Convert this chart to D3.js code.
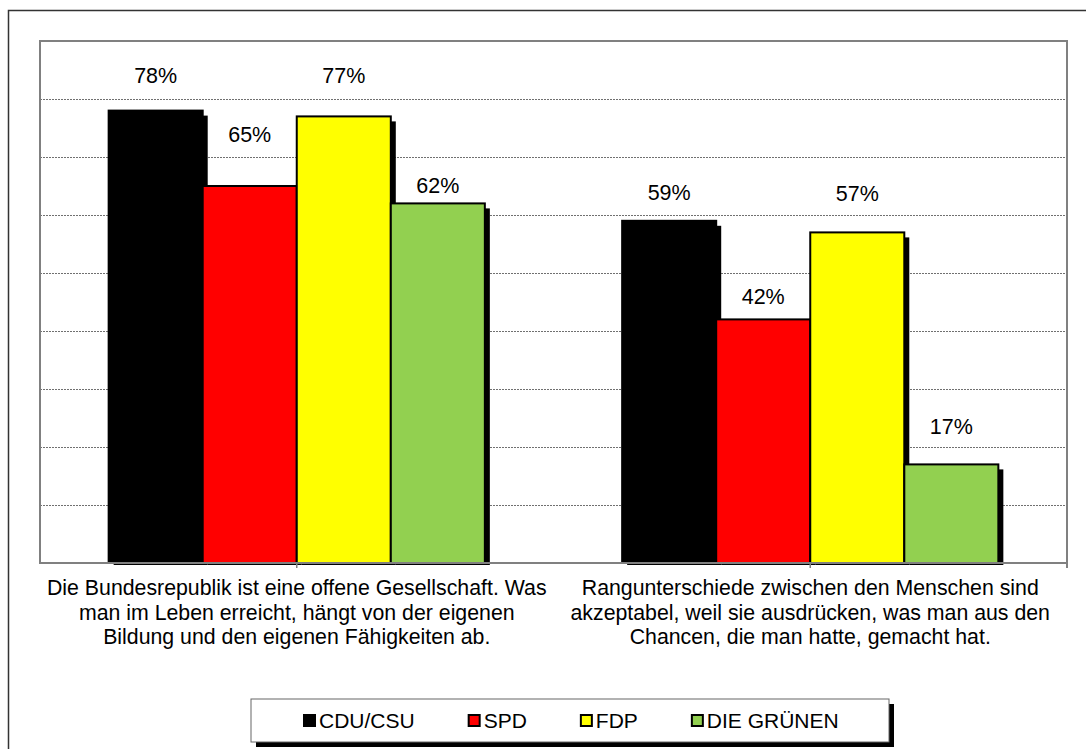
<!DOCTYPE html>
<html>
<head>
<meta charset="utf-8">
<script src="https://cdn.jsdelivr.net/npm/d3@7"></script>
<style>
  body { margin: 0; background: #fff; }
  svg { display: block; font-family: "Liberation Sans", Arial, sans-serif; }
</style>
</head>
<body>
<div id="chart"></div>
<script>
// data
var categories = ["Offene Gesellschaft", "Rangunterschiede"];
var categoryLines = [
  ["Die Bundesrepublik ist eine offene Gesellschaft. Was",
   "man im Leben erreicht, hängt von der eigenen",
   "Bildung und den eigenen Fähigkeiten ab."],
  ["Rangunterschiede zwischen den Menschen sind",
   "akzeptabel, weil sie ausdrücken, was man aus den",
   "Chancen, die man hatte, gemacht hat."]
];
var parties = ["CDU/CSU", "SPD", "FDP", "DIE GRÜNEN"];
var partyColors = ["#000000", "#ff0000", "#ffff00", "#92d050"];
var values = [
  [78, 65, 77, 62],
  [59, 42, 57, 17]
];
var yTicks = [10, 20, 30, 40, 50, 60, 70, 80];

// layout (label lift above bar top, px) - labels sit a bit irregularly in the original
var labelLift = [[35, 52, 41, 18], [28, 23, 39, 38]];

var W = 1086, H = 749;
var plot = { left: 40, top: 41, right: 1067, bottom: 563 };

var svg = d3.select("#chart").append("svg")
    .attr("width", W)
    .attr("height", H);

// outer chart frame (runs off the page on right/bottom)
svg.append("rect")
    .attr("x", 8.5).attr("y", 10.5)
    .attr("width", W + 20).attr("height", H + 20)
    .attr("fill", "#fff")
    .attr("stroke", "#333")
    .attr("stroke-width", 1.5);

var x0 = d3.scaleBand()
    .domain(categories)
    .range([plot.left, plot.right])
    .padding(0);

var x1 = d3.scaleBand()
    .domain(parties)
    .range([0, x0.bandwidth()])
    .paddingInner(0)
    .paddingOuter(0.73);

var y = d3.scaleLinear()
    .domain([0, 90])
    .range([plot.bottom, plot.top]);

// gridlines
svg.append("g")
  .selectAll("line")
  .data(yTicks)
  .enter().append("line")
    .attr("x1", plot.left).attr("x2", plot.right)
    .attr("y1", function(d) { return Math.round(y(d)) + 0.5; })
    .attr("y2", function(d) { return Math.round(y(d)) + 0.5; })
    .attr("stroke", "#707070")
    .attr("stroke-width", 1)
    .attr("stroke-dasharray", "2,1");

svg.append("defs").append("clipPath").attr("id", "plotclip")
  .append("rect")
    .attr("x", plot.left).attr("y", plot.top)
    .attr("width", plot.right - plot.left + 10)
    .attr("height", plot.bottom - plot.top + 2);

// bars, each with its drop shadow, drawn in series order
var groups = svg.append("g")
    .attr("clip-path", "url(#plotclip)")
  .selectAll(".grp")
  .data(categories)
  .enter().append("g")
    .attr("class", "grp")
    .attr("transform", function(d) { return "translate(" + x0(d) + ",0)"; });

groups.each(function(cat, ci) {
  var g = d3.select(this);
  parties.forEach(function(p, pi) {
    var v = values[ci][pi];
    g.append("rect")
        .attr("x", x1(p) + 5)
        .attr("y", y(v) + 5)
        .attr("width", x1.bandwidth())
        .attr("height", plot.bottom - y(v))
        .attr("fill", "#000");
    g.append("rect")
        .attr("x", x1(p))
        .attr("y", y(v))
        .attr("width", x1.bandwidth())
        .attr("height", plot.bottom - y(v))
        .attr("fill", partyColors[pi])
        .attr("stroke", "#000")
        .attr("stroke-width", 2);
  });
});

// plot area border
svg.append("rect")
    .attr("x", plot.left).attr("y", plot.top)
    .attr("width", plot.right - plot.left)
    .attr("height", plot.bottom - plot.top)
    .attr("fill", "none")
    .attr("stroke", "#808080")
    .attr("stroke-width", 2);

// category tick marks
svg.append("g")
  .selectAll("line")
  .data(categories)
  .enter().append("line")
    .attr("x1", function(d) { return x0(d) + x0.bandwidth() / 2; })
    .attr("x2", function(d) { return x0(d) + x0.bandwidth() / 2; })
    .attr("y1", plot.bottom).attr("y2", plot.bottom + 5)
    .attr("stroke", "#808080").attr("stroke-width", 1.5);
svg.append("line")
    .attr("x1", plot.right).attr("x2", plot.right)
    .attr("y1", plot.bottom).attr("y2", plot.bottom + 5)
    .attr("stroke", "#808080").attr("stroke-width", 2);

// value labels
categories.forEach(function(cat, ci) {
  parties.forEach(function(p, pi) {
    var v = values[ci][pi];
    svg.append("text")
        .attr("x", x0(cat) + x1(p) + x1.bandwidth() / 2)
        .attr("y", y(v) - labelLift[ci][pi])
        .attr("dy", "0.35em")
        .attr("text-anchor", "middle")
        .style("font-size", "21.5px")
        .attr("fill", "#000")
        .text(v + "%");
  });
});

// category labels
categories.forEach(function(cat, ci) {
  var t = svg.append("text")
      .attr("text-anchor", "middle")
      .style("font-size", "21.3px")
      .attr("fill", "#000");
  categoryLines[ci].forEach(function(line, li) {
    t.append("tspan")
        .attr("x", x0(cat) + x0.bandwidth() / 2)
        .attr("y", 588 + li * 24.5)
        .attr("dy", "0.35em")
        .text(line);
  });
});

// legend
var legend = { x: 251, y: 699, w: 638, h: 43 };
svg.append("rect")
    .attr("x", legend.x + 5).attr("y", legend.y + 5)
    .attr("width", legend.w).attr("height", legend.h)
    .attr("fill", "#000");
svg.append("rect")
    .attr("x", legend.x).attr("y", legend.y)
    .attr("width", legend.w).attr("height", legend.h)
    .attr("fill", "#fff")
    .attr("stroke", "#666")
    .attr("stroke-width", 1);

var lx = 303;
parties.forEach(function(p, i) {
  svg.append("rect")
      .attr("x", lx + 1).attr("y", legend.y + 16)
      .attr("width", 11).attr("height", 11)
      .attr("fill", partyColors[i])
      .attr("stroke", "#000")
      .attr("stroke-width", 2);
  var t = svg.append("text")
      .attr("x", lx + 16)
      .attr("y", legend.y + 22)
      .attr("dy", "0.35em")
      .style("font-size", "21px")
      .text(p);
  lx += 16 + t.node().getComputedTextLength() + 53;
});
</script>
</body>
</html>
